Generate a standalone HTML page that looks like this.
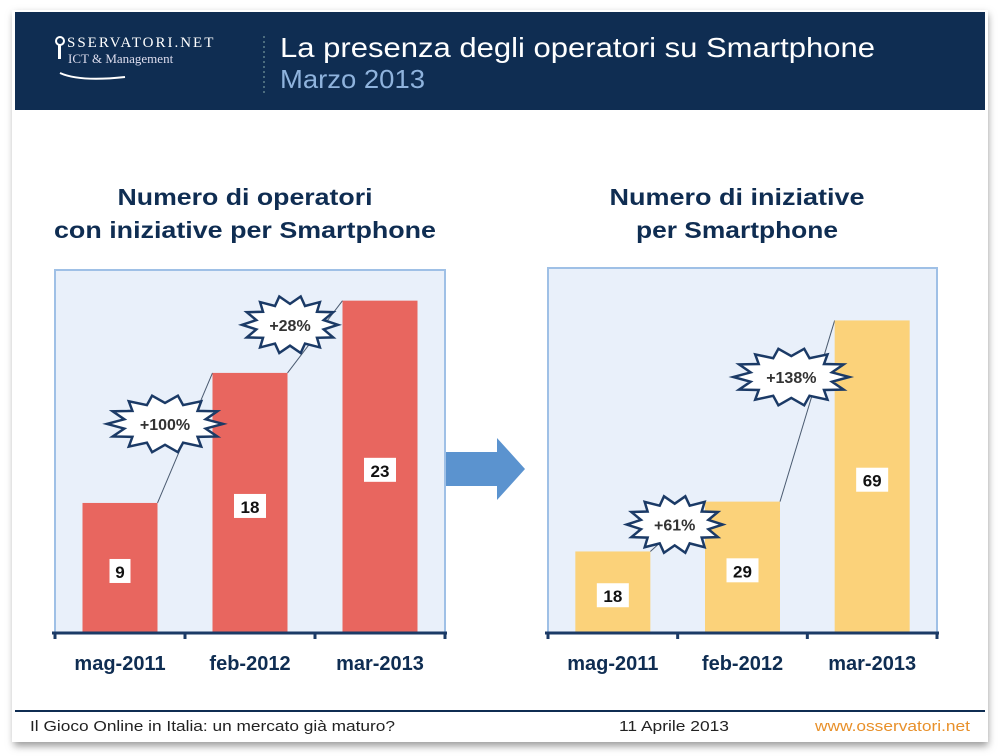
<!DOCTYPE html>
<html><head><meta charset="utf-8">
<style>
body{margin:0;background:#fff;width:1000px;height:756px;overflow:hidden;font-family:"Liberation Sans",sans-serif}
svg{display:block}
</style></head><body>
<svg id="s" width="1000" height="756" viewBox="0 0 1000 756">
<defs><filter id="sh" x="-5%" y="-5%" width="110%" height="110%"><feGaussianBlur stdDeviation="4"/></filter></defs>
<rect x="14" y="14" width="974" height="732" fill="#999" filter="url(#sh)"/>
<rect x="12" y="10" width="976" height="732" fill="#fff"/>
<rect x="15" y="12" width="970" height="98" fill="#0f2d52"/>
<g>
<circle cx="60" cy="41" r="4" fill="none" stroke="#fff" stroke-width="2"/>
<rect x="58" y="45" width="3" height="14" fill="#fff"/>
<text x="67" y="47" fill="#fff" font-size="15" font-family="Liberation Serif,serif" letter-spacing="2">SSERVATORI.NET</text>
<text x="68" y="63" fill="#dde" font-size="13" font-family="Liberation Serif,serif">ICT &amp; Management</text>
<path d="M60 73 Q80 82 125 77" stroke="#fff" stroke-width="2" fill="none"/>
</g>
<line x1="264" y1="36" x2="264" y2="94" stroke="#8aa" stroke-dasharray="2,3"/>
<text x="280" y="57" fill="#fff" font-size="28" textLength="595" lengthAdjust="spacingAndGlyphs">La presenza degli operatori su Smartphone</text>
<text x="280" y="88" fill="#8fb3dd" font-size="26" textLength="145" lengthAdjust="spacingAndGlyphs">Marzo 2013</text>
<text text-anchor="middle" font-size="23" font-weight="bold" fill="#0f2d52"><tspan x="245" y="205" textLength="255" lengthAdjust="spacingAndGlyphs">Numero di operatori</tspan><tspan x="245" y="238" textLength="382" lengthAdjust="spacingAndGlyphs">con iniziative per Smartphone</tspan></text>
<text text-anchor="middle" font-size="23" font-weight="bold" fill="#0f2d52"><tspan x="737" y="205" textLength="255" lengthAdjust="spacingAndGlyphs">Numero di iniziative</tspan><tspan x="737" y="238" textLength="202" lengthAdjust="spacingAndGlyphs">per Smartphone</tspan></text>
<g>
<rect x="431" y="452" width="3" height="34" fill="#6fa0d5"/><rect x="436" y="452" width="3" height="34" fill="#6fa0d5"/>
<polygon points="442,452 497,452 497,438 525,469 497,500 497,486 442,486" fill="#5b93cf"/>
</g>
<g id="charts"></g>
<line x1="15" y1="711" x2="985" y2="711" stroke="#0f2d52" stroke-width="2"/>
<text x="30" y="731" font-size="15" fill="#222" textLength="365" lengthAdjust="spacingAndGlyphs">Il Gioco Online in Italia: un mercato già maturo?</text>
<text x="619" y="731" font-size="15" fill="#222" textLength="110" lengthAdjust="spacingAndGlyphs">11 Aprile 2013</text>
<text x="815" y="731" font-size="15" fill="#e8902a" textLength="155" lengthAdjust="spacingAndGlyphs">www.osservatori.net</text>
</svg>
<script>
const categories=["mag-2011","feb-2012","mar-2013"];
const operatori=[9,18,23];
const iniziative=[18,29,69];
const growthLeft=["+100%","+28%"];
const growthRight=["+61%","+138%"];
const NS="http://www.w3.org/2000/svg";
const root=document.getElementById('charts');
function mk(t,a,p){const e=document.createElementNS(NS,t);for(const k in a)e.setAttribute(k,a[k]);(p||root).appendChild(e);return e;}
function star(cx,cy,rx,ry,n){let p=[];for(let i=0;i<n*2;i++){const a=Math.PI*i/n;const f=i%2?0.72:1;p.push((cx+Math.cos(a)*rx*f).toFixed(1)+','+(cy+Math.sin(a)*ry*f).toFixed(1));}return p.join(' ');}
function chart(cfg){
  const g=mk('g',{});
  
  
  const bg=mk('rect',{x:cfg.x0,y:cfg.top,width:cfg.w,height:cfg.base-cfg.top,fill:'#e9f0fa',stroke:'#9fc0e6','stroke-width':2},g);
  
  
  const step=cfg.w/cfg.cats.length, bw=75;
  const y=v=>cfg.base-v*cfg.k;
  const xs=i=>cfg.x0+step*i+(step-bw)/2;
  for(let i=0;i<cfg.vals.length-1;i++){
    const l=mk('line',{x1:xs(i)+bw,y1:y(cfg.vals[i]),x2:xs(i+1),y2:y(cfg.vals[i+1]),stroke:'#4a5a70','stroke-width':1},g);
    
    
  }
  cfg.vals.forEach((v,i)=>{
    const r=mk('rect',{x:xs(i),y:y(v),width:bw,height:v*cfg.k,fill:cfg.color},g);
    
    
    const ly=(y(v)+cfg.base)/2+5;
    const s=String(v);const lw=s.length*11+10;
    const lb=mk('rect',{x:xs(i)+bw/2-lw/2,y:ly-14,width:lw,height:24,fill:'#fff'},g);
    
    
    const t=mk('text',{x:xs(i)+bw/2,y:ly+5,'text-anchor':'middle','font-size':17,'font-weight':'bold',fill:'#111'},g);
    t.textContent=s;
    
    
    const c=mk('text',{x:cfg.x0+step*i+step/2,y:cfg.base+37,'text-anchor':'middle','font-size':20,'font-weight':'bold',fill:'#0f2d52'},g);
    c.textContent=cfg.cats[i];
    
    
  });
  const ax=mk('line',{x1:cfg.x0-3,y1:cfg.base,x2:cfg.x0+cfg.w+2,y2:cfg.base,stroke:'#1b3a66','stroke-width':3},g);
  
  
  for(let i=0;i<=cfg.cats.length;i++){
    const tk=mk('line',{x1:cfg.x0+step*i,y1:cfg.base,x2:cfg.x0+step*i,y2:cfg.base+6,stroke:'#1b3a66','stroke-width':3},g);
    
    
  }
  cfg.growth.forEach((gt,i)=>{
    const x1=xs(i)+bw,x2=xs(i+1),y1=y(cfg.vals[i]),y2=y(cfg.vals[i+1]);
    const cx=(x1+x2)/2+cfg.off[i][0], cy=(y1+y2)/2+cfg.off[i][1];
    const rx=gt.length>4?58:48;
    const p=mk('polygon',{points:star(cx,cy,rx,29,14),fill:'#fff',stroke:'#1b3a66','stroke-width':2.5},g);
    
    
    const t=mk('text',{x:cx,y:cy+6,'text-anchor':'middle','font-size':16,'font-weight':'bold',fill:'#333'},g);
    t.textContent=gt;
    
    
  });
}
chart({name:'left-chart',x0:55,w:390,top:270,base:633,k:14.45,cats:categories,vals:operatori,color:'#e8665f',growth:growthLeft,off:[[-20,-14],[-25,-12]]});
chart({name:'right-chart',x0:548,w:389,top:268,base:633,k:4.53,cats:categories,vals:iniziative,color:'#fbd27a',growth:growthRight,off:[[-3,-2],[-16,-34]]});
</script>
</body></html>
